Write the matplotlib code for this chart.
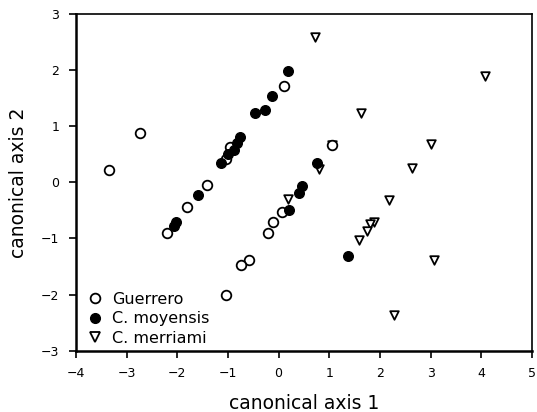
import matplotlib
matplotlib.use("Agg")
import matplotlib.pyplot as plt
from matplotlib.lines import Line2D

plt.rcParams["font.family"] = ["DejaVu Sans"]

# Guerrero (open circles)
guerrero_x = [-3.34, -2.74, 0.10, -0.95, -1.03, -1.42, -1.80, -2.21,
              0.06, -0.12, -0.20, -0.58, -0.74, -1.03, 1.06]
guerrero_y = [0.22, 0.89, 1.72, 0.64, 0.41, -0.05, -0.43, -0.90,
              -0.53, -0.71, -0.91, -1.38, -1.47, -2.00, 0.66]

# C. moyensis (filled circles)
moyensis_x = [0.18, -0.14, -0.26, -0.47, -0.76, -0.83, -0.88, -0.99, -1.14,
              -1.59, -2.03, -2.06, 0.47, 0.41, 0.21, 0.75, 1.36]
moyensis_y = [1.99, 1.55, 1.30, 1.23, 0.81, 0.70, 0.57, 0.51, 0.35,
              -0.23, -0.71, -0.78, -0.07, -0.19, -0.49, 0.35, -1.31]

# C. merriami (open down triangles)
merriami_x = [0.72, 4.07, 1.62, 1.06, 3.00, 2.64, 0.79, 2.18, 1.88,
              1.80, 1.74, 1.58, 3.07, 2.28, 0.19]
merriami_y = [2.59, 1.90, 1.24, 0.66, 0.68, 0.26, 0.24, -0.31, -0.71,
              -0.74, -0.86, -1.03, -1.38, -2.36, -0.30]

x_ticks = [-4, -3, -2, -1, 0, 1, 2, 3, 4, 5]
y_ticks = [-3, -2, -1, 0, 1, 2, 3]

fig = plt.figure(figsize=(5.37, 4.12), dpi=100)
ax = fig.add_axes([0.1415, 0.149, 0.849, 0.8165])

ax.scatter(merriami_x, merriami_y, s=38, marker="v", facecolors="white",
           edgecolors="black", linewidths=1.3, zorder=3)
ax.scatter(guerrero_x, guerrero_y, s=48, marker="o", facecolors="white",
           edgecolors="black", linewidths=1.3, zorder=4)
ax.scatter(moyensis_x, moyensis_y, s=48, marker="o", facecolors="black",
           edgecolors="black", linewidths=1.0, zorder=5)

ax.set_xlim(-4, 5)
ax.set_ylim(-3, 3)
ax.set_xticks(x_ticks)
ax.set_yticks(y_ticks)
ax.set_xticklabels([str(t).replace("-", "\u2212") for t in x_ticks])
ax.set_yticklabels([str(t).replace("-", "\u2212") for t in y_ticks])
ax.tick_params(direction="out", length=5, width=1.2, labelsize=9)
ax.tick_params(axis="x", pad=7)
ax.tick_params(axis="y", pad=7)
for side, spine in ax.spines.items():
    spine.set_linewidth(1.8 if side in ("left", "bottom") else 1.2)

ax.set_xlabel("canonical axis 1", fontsize=13.5, labelpad=10, color="black")
ax.set_ylabel("canonical axis 2", fontsize=13.5, labelpad=9, color="black")

handles = [
    Line2D([], [], linestyle="none", marker="o", markersize=7, markerfacecolor="white",
           markeredgecolor="black", markeredgewidth=1.3),
    Line2D([], [], linestyle="none", marker="o", markersize=7, markerfacecolor="black",
           markeredgecolor="black"),
    Line2D([], [], linestyle="none", marker="v", markersize=6.5, markerfacecolor="white",
           markeredgecolor="black", markeredgewidth=1.3),
]
ax.legend(handles, ["Guerrero", "C. moyensis", "C. merriami"], loc="lower left",
          bbox_to_anchor=(0.004, -0.004), frameon=False, fontsize=11.5, handletextpad=0.45,
          labelspacing=0.28, borderaxespad=0.0, handlelength=1.3)

fig.savefig("out.png", dpi=100, facecolor="white")
